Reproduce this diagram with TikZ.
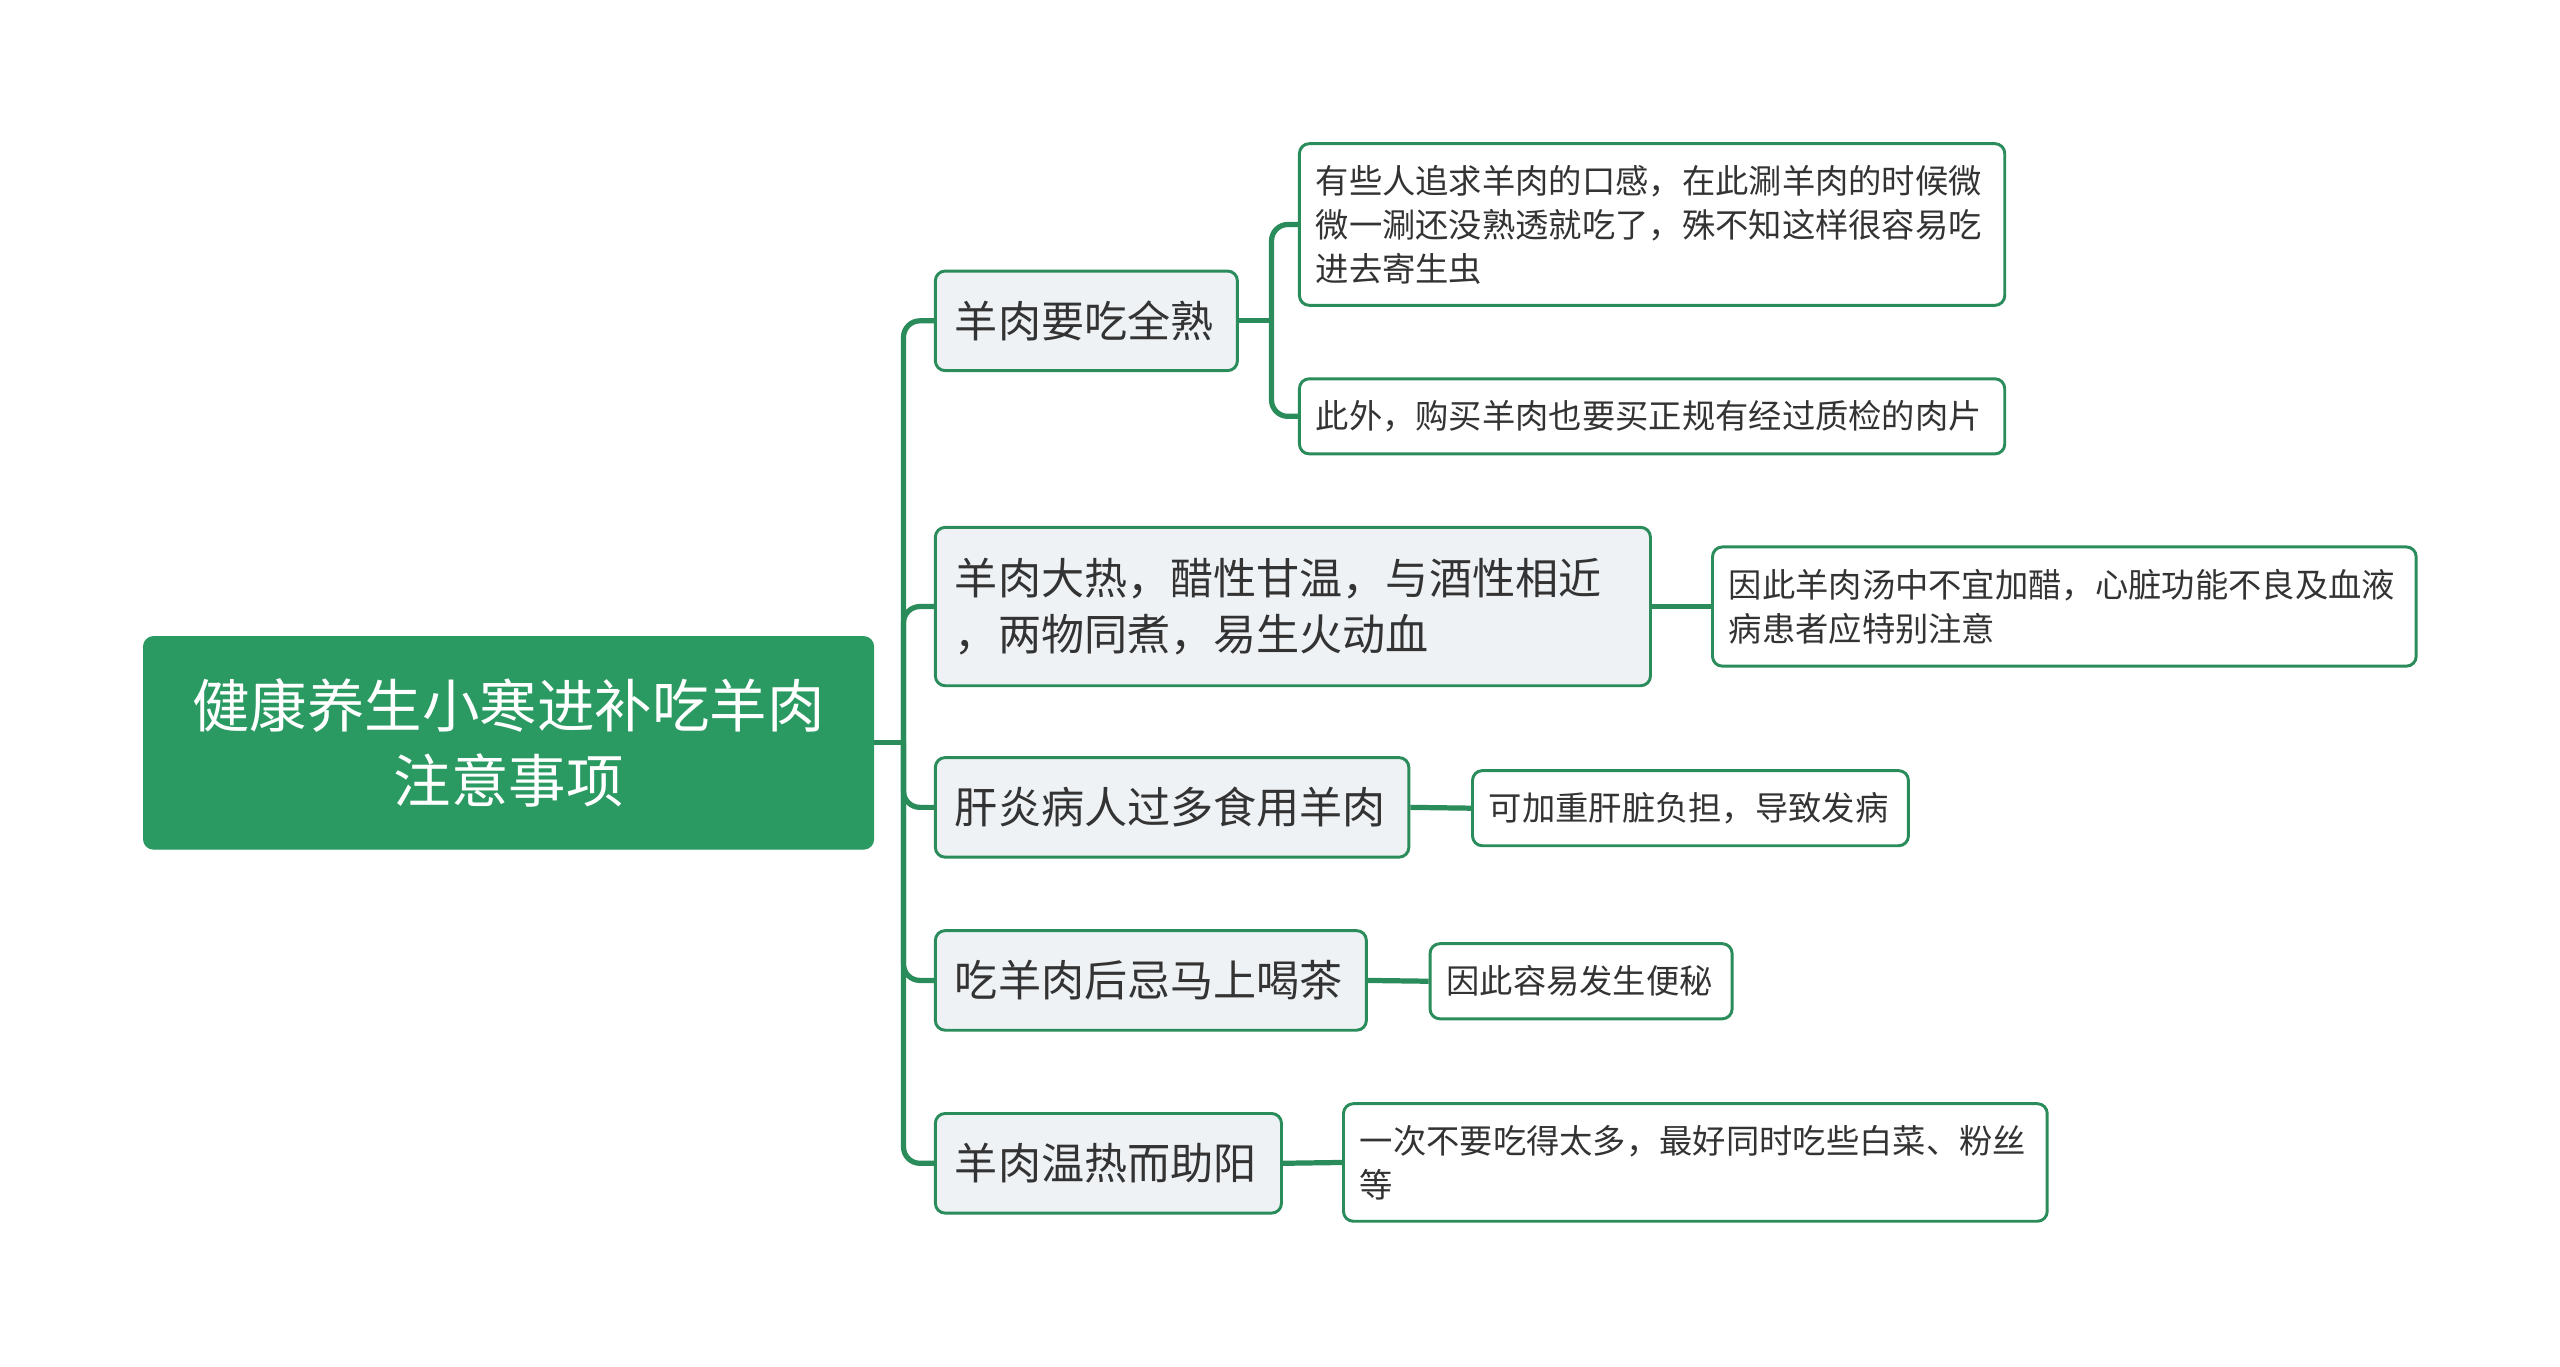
\documentclass[tikz,border=0pt]{standalone}
\usepackage{fontspec}
\setmainfont{Noto Sans CJK SC}
\definecolor{vert}{HTML}{2A9A62}
\definecolor{trait}{HTML}{2B8C5B}
\definecolor{pale}{HTML}{EEF2F5}
\definecolor{encre}{HTML}{333333}
\usepackage{tikz}

\begin{document}
\begin{tikzpicture}[x=0.5pt, y=-0.5pt, thin]
  \tikzstyle{racine}=[fill=vert, draw=vert, rounded corners=3pt, text=white, align=center,
    minimum width=223.5pt, minimum height=65pt, font=\fontsize{17.6}{23}\selectfont]
  \tikzstyle{branche}=[fill=pale, draw=trait, line width=0.9pt, rounded corners=3pt, text=encre,
    anchor=west, align=left, inner xsep=6pt, font=\fontsize{13.2}{17}\selectfont]
  \tikzstyle{feuille}=[fill=white, draw=trait, line width=0.9pt, rounded corners=3pt, text=encre,
    anchor=west, align=left, inner xsep=5pt, font=\fontsize{10.2}{13.5}\selectfont]
  \tikzstyle{lien}=[draw=trait, line width=1.6pt, rounded corners=5pt]

  \fill[white] (0,0) rectangle (1568,837);
  \useasboundingbox (0,0) rectangle (1568,837);

  % racine
  \node[racine] (R) at (311.5,455) {健康养生小寒进补吃羊肉\\注意事项};

  % branches
  \node[branche, text width=80.5pt, minimum height=30.5pt] (B1) at (572,196.5) {羊肉要吃全熟};
  \node[branche, text width=207pt, minimum height=48.5pt] (B2) at (572,371.5)
    {羊肉大热，醋性甘温，与酒性相近\\，两物同煮，易生火动血};
  \node[branche, text width=133pt, minimum height=30.5pt] (B3) at (572,494.5) {肝炎病人过多食用羊肉};
  \node[branche, text width=120pt, minimum height=30.5pt] (B4) at (572,600.5) {吃羊肉后忌马上喝茶};
  \node[branche, text width=94pt, minimum height=30.5pt] (B5) at (572,712.5) {羊肉温热而助阳};

  % feuilles
  \node[feuille, text width=206pt, minimum height=49.5pt] (F1a) at (795,137.5)
    {有些人追求羊肉的口感，在此涮羊肉的时候微\\微一涮还没熟透就吃了，殊不知这样很容易吃\\进去寄生虫};
  \node[feuille, text width=206pt, minimum height=23pt] (F1b) at (795,255)
    {此外，购买羊肉也要买正规有经过质检的肉片};
  \node[feuille, text width=205.5pt, minimum height=36.5pt] (F2) at (1048,371.5)
    {因此羊肉汤中不宜加醋，心脏功能不良及血液\\病患者应特别注意};
  \node[feuille, text width=123.5pt, minimum height=23pt] (F3) at (901,495) {可加重肝脏负担，导致发病};
  \node[feuille, text width=82.5pt, minimum height=23pt] (F4) at (875,601) {因此容易发生便秘};
  \node[feuille, text width=205.5pt, minimum height=36pt] (F5) at (822,712)
    {一次不要吃得太多，最好同时吃些白菜、粉丝\\等};

  % liens
  \coordinate (hub) at ([xshift=9pt]R.east);
  \draw[lien] (R.east) -- (hub);
  \foreach \b in {B1,B2,B3,B4,B5}
    \draw[lien] (hub) |- (\b.west);

  \coordinate (fourche) at ([xshift=10pt]B1.east);
  \draw[lien] (B1.east) -- (fourche);
  \draw[lien] (fourche) |- (F1a.west);
  \draw[lien] (fourche) |- (F1b.west);

  \path[lien]
    (B2.east) edge (F2.west)
    (B3.east) edge (F3.west)
    (B4.east) edge (F4.west)
    (B5.east) edge (F5.west);

\end{tikzpicture}
\end{document}
